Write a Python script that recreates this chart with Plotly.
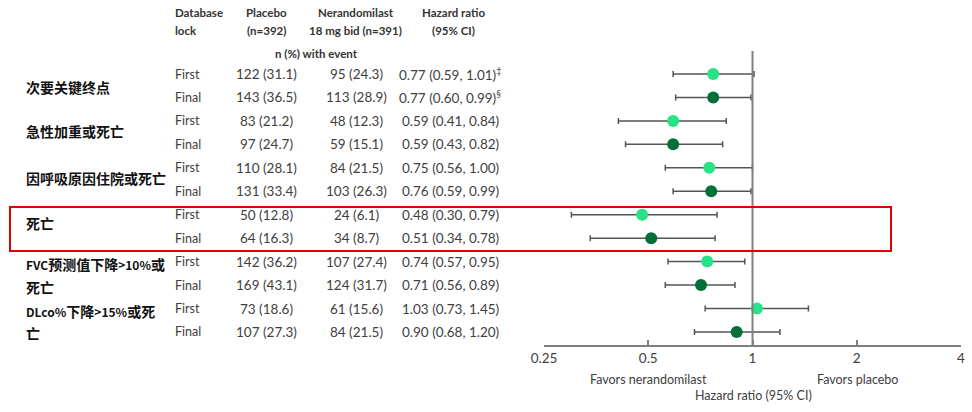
import re
import plotly.graph_objects as go

# ---------------- data ----------------
lock = ["First", "Final"] * 6
placebo_n = [122, 143, 83, 97, 110, 131, 50, 64, 142, 169, 73, 107]
placebo_pct = [31.1, 36.5, 21.2, 24.7, 28.1, 33.4, 12.8, 16.3, 36.2, 43.1, 18.6, 27.3]
neran_n = [95, 113, 48, 59, 84, 103, 24, 34, 107, 124, 61, 84]
neran_pct = [24.3, 28.9, 12.3, 15.1, 21.5, 26.3, 6.1, 8.7, 27.4, 31.7, 15.6, 21.5]
hr = [0.77, 0.77, 0.59, 0.59, 0.75, 0.76, 0.48, 0.51, 0.74, 0.71, 1.03, 0.90]
ci_lo = [0.59, 0.60, 0.41, 0.43, 0.56, 0.59, 0.30, 0.34, 0.57, 0.56, 0.73, 0.68]
ci_hi = [1.01, 0.99, 0.84, 0.82, 1.00, 0.99, 0.79, 0.78, 0.95, 0.89, 1.45, 1.20]
hr_marks = ["‡", "§", "", "", "", "", "", "", "", "", "", ""]
label_lines = ["次要关键终点", "急性加重或死亡", "因呼吸原因住院或死亡", "死亡",
               "FVC预测值下降>10%或", "死亡", "DLco%下降>15%或死", "亡"]
tick_vals = [0.25, 0.5, 1, 2, 4]
tick_text = ["0.25", "0.5", "1", "2", "4"]

# ---------------- layout constants ----------------
W, H = 972, 412
rows = list(range(len(hr)))
label_y = [0.55, 2.45, 4.45, 6.35, 8.1, 9.1, 10.1, 11.05]
LIGHT = "#27E385"
DARK = "#006F3A"
TXT = "#404040"
FONT = "Lato"
FS = 13.5
HFS = 11.5

def px(x):
    return x / W

def py(y):
    return 1 - y / H

fig = go.Figure()

for color, idx in [(LIGHT, rows[0::2]), (DARK, rows[1::2])]:
    fig.add_trace(go.Scatter(
        x=[hr[i] for i in idx],
        y=[i for i in idx],
        mode="markers",
        marker=dict(size=12, color=color),
        error_x=dict(
            type="data", symmetric=False,
            array=[ci_hi[i] - hr[i] for i in idx],
            arrayminus=[hr[i] - ci_lo[i] for i in idx],
            color="#555555", thickness=1.5, width=3,
        ),
        showlegend=False, hoverinfo="skip",
    ))

annotations = []

def ann(text, x, y, yref="paper", xanchor="center", size=FS, color=TXT, family=FONT, bold=False):
    annotations.append(dict(
        text=f"<b>{text}</b>" if bold else text,
        x=px(x), xref="paper", y=y, yref=yref,
        xanchor=xanchor, yanchor="middle", showarrow=False,
        font=dict(size=size, color=color, family=family),
    ))

# headers
HC = "#333333"
ann("Database", 173, py(13), xanchor="left", size=HFS, bold=True, color=HC)
ann("lock", 173, py(31), xanchor="left", size=HFS, bold=True, color=HC)
ann("Placebo", 266, py(13), size=HFS, bold=True, color=HC)
ann("(n=392)", 266, py(31), size=HFS, bold=True, color=HC)
ann("Nerandomilast", 356, py(13), size=HFS, bold=True, color=HC)
ann("18 mg bid (n=391)", 355, py(31), size=HFS, bold=True, color=HC)
ann("Hazard ratio", 453, py(13), size=HFS, bold=True, color=HC)
ann("(95% CI)", 453, py(31), size=HFS, bold=True, color=HC)
ann("n (%) with event", 316, py(53), size=HFS, bold=True, color=HC)

# table rows
for i in rows:
    ann(lock[i], 173, i, yref="y", xanchor="left", size=12.5)
    ann(f"{placebo_n[i]} ({placebo_pct[i]:.1f})", 266, i, yref="y")
    ann(f"{neran_n[i]} ({neran_pct[i]:.1f})", 356, i, yref="y")
    mark = f"<sup>{hr_marks[i]}</sup>" if hr_marks[i] else ""
    ann(f"{hr[i]:.2f} ({ci_lo[i]:.2f}, {ci_hi[i]:.2f}){mark}", 450, i, yref="y")

# outcome labels (latin runs slightly smaller, like the half-width glyphs of the source)
for t, yv in zip(label_lines, label_y):
    t2 = re.sub(r"([A-Za-z0-9%>]+)", r"<span style='font-size:12px'>\1</span>", t)
    ann(t2, 24, yv, yref="y", xanchor="left", size=14, color="#111",
        family="Noto Sans CJK SC", bold=True)

# bottom texts
ann("Favors nerandomilast", 648, py(379), size=12.5)
ann("Favors placebo", 857, py(379), size=12.5)
ann("Hazard ratio (95% CI)", 753, py(395), size=12.5)

y_bot, y_top = py(345), py(51)
shapes = [
    dict(type="line", xref="x", yref="paper", x0=1, x1=1, y0=y_bot, y1=y_top,
         line=dict(color="#7f7f7f", width=2)),
    dict(type="rect", xref="paper", yref="paper", x0=px(10), x1=px(891),
         y0=py(207), y1=py(251), line=dict(color="#E00000", width=2)),
]

fig.update_layout(
    template="none",
    width=W, height=H,
    margin=dict(l=0, r=0, t=0, b=0, autoexpand=False),
    paper_bgcolor="white", plot_bgcolor="white",
    annotations=annotations, shapes=shapes,
    xaxis=dict(
        type="log", range=[-0.60206, 0.60206],
        domain=[px(544), px(961)], automargin=False,
        tickvals=tick_vals, ticktext=tick_text,
        showline=True, linecolor="#7f7f7f", linewidth=1.5,
        ticks="inside", ticklen=5, tickcolor="#7f7f7f", tickwidth=1.5,
        showgrid=False, zeroline=False,
        tickfont=dict(size=FS, color=TXT, family=FONT),
    ),
    yaxis=dict(
        range=[11.556, -0.981], domain=[y_bot, y_top], automargin=False,
        visible=False, showgrid=False, zeroline=False,
    ),
)

fig.write_html("out.html", config={"displayModeBar": False},
               post_script="document.body.style.margin='0';")
